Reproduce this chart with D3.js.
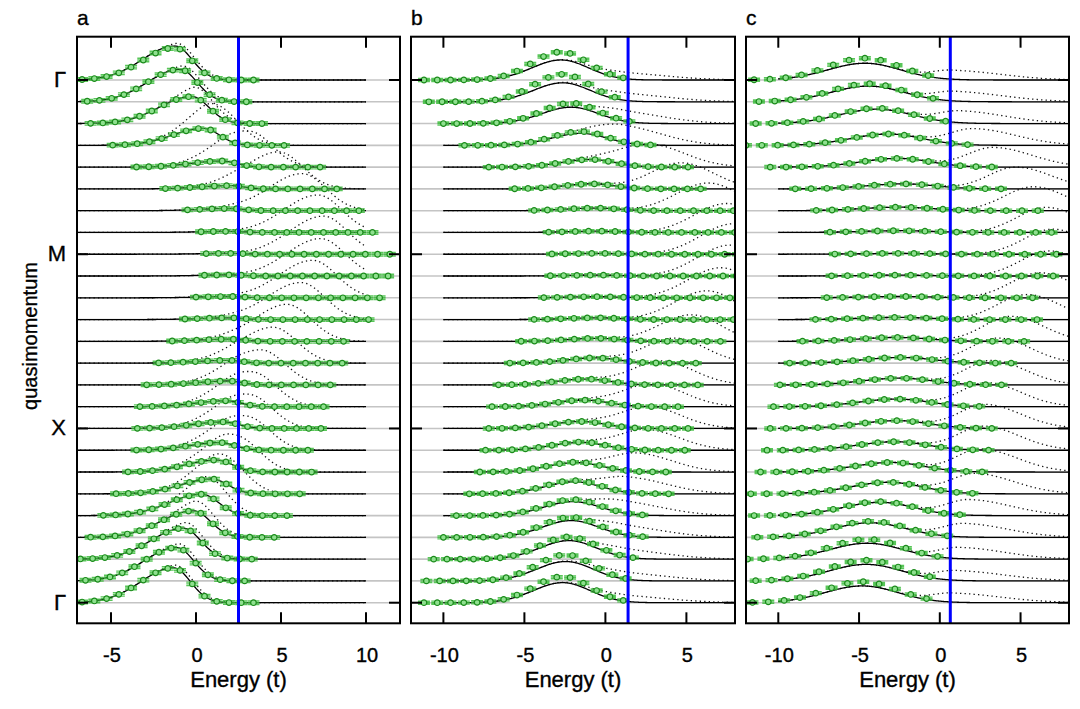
<!DOCTYPE html>
<html>
<head>
<meta charset="utf-8">
<script src="https://cdn.jsdelivr.net/npm/d3@7"></script>
<style>
  body { margin: 0; background: #fff; }
  text { font-family: "Liberation Sans", Arial, sans-serif; fill: #000; stroke: #000; stroke-width: 0.35px; }
</style>
</head>
<body>
<svg id="chart" width="1080" height="709"></svg>
<script>
// momentum path rows and their labels
const kLabels = ["Γ", "M", "X", "Γ"];
const kRows = [0, 8, 16, 24];
const nRows = 25;

const ticksA = [-5, 0, 5, 10];
const ticksB = [-10, -5, 0, 5];
const ticksC = [-10, -5, 0, 5];

// chemical potential (blue line), energy step between data points
const muA = 2.5, muB = 1.4, muC = 0.65;
const stepA = 0.72, stepB = 0.82, stepC = 0.98;
const errA = 0.08, errB = 0.07, errC = 0.07;

// solid curve per row: [centre, height (row spacings), sigma left, sigma right]
const solidA = [
  [-1.24, 1.56, 1.9, 1.0], [-0.94, 1.49, 1.9, 1.0], [-0.25, 1.24, 1.9, 1.0], [0.43, 0.78, 1.8, 0.95],
  [1.5, 0.28, 1.8, 0.9], [2.0, 0.15, 1.8, 0.8], [2.0, 0.1, 1.8, 0.8], [2.0, 0.05, 1.8, 0.8],
  [2.0, 0.04, 1.8, 0.8], [2.0, 0.05, 1.8, 0.8], [2.0, 0.06, 1.8, 0.8], [2.0, 0.08, 1.8, 0.8],
  [2.0, 0.1, 1.8, 0.8], [1.9, 0.13, 1.8, 0.8], [1.9, 0.18, 1.8, 0.8], [1.8, 0.27, 1.8, 0.85],
  [1.6, 0.3, 1.8, 0.9], [1.4, 0.35, 1.8, 0.9], [1.2, 0.55, 1.8, 0.95], [0.92, 0.68, 1.8, 0.95],
  [0.33, 0.98, 1.9, 1.0], [-0.16, 1.22, 1.9, 1.0], [-0.74, 1.42, 1.9, 1.0], [-1.14, 1.53, 1.9, 1.0],
  [-1.33, 1.6, 1.9, 1.0]
];
// extra part of the dotted curve (dotted = solid + upper)
const upperA = [
  [-0.3, 0.22, 0.8, 1.0], [0.0, 0.28, 0.8, 1.0], [0.4, 0.5, 1.0, 1.1], [1.55, 1.35, 1.5, 1.2],
  [3.2, 1.6, 1.8, 1.3], [4.85, 1.7, 1.9, 1.4], [6.24, 1.7, 2.0, 1.4], [7.17, 1.72, 2.0, 1.4],
  [7.5, 1.75, 2.0, 1.4], [7.34, 1.72, 2.0, 1.4], [6.87, 1.72, 2.0, 1.4], [6.17, 1.7, 2.0, 1.4],
  [5.35, 1.7, 1.9, 1.4], [4.53, 1.65, 1.9, 1.4], [3.83, 1.6, 1.8, 1.4], [3.36, 1.55, 1.7, 1.35],
  [3.2, 1.5, 1.7, 1.3], [3.04, 1.5, 1.7, 1.3], [2.57, 1.45, 1.6, 1.25], [1.87, 1.3, 1.5, 1.2],
  [1.05, 0.9, 1.2, 1.1], [0.4, 0.5, 1.0, 1.1], [-0.1, 0.32, 0.9, 1.0], [-0.4, 0.25, 0.8, 1.0],
  [-0.5, 0.2, 0.8, 1.0]
];
// data points per row: [first energy, last energy, height relative to solid]
const pointsA = [
  [-6.7, 3.4, 0.95], [-6.4, 3.6, 1], [-6.2, 4.5, 1], [-4.9, 5.8, 1], [-3.5, 7.4, 1],
  [-1.8, 8.9, 1], [-0.5, 10.2, 1], [0.3, 11.0, 1], [0.6, 11.4, 1], [0.5, 11.3, 1],
  [0.0, 10.8, 1], [-0.65, 10.2, 1], [-1.4, 9.35, 1], [-2.2, 8.6, 1], [-2.9, 8.0, 1],
  [-3.3, 7.6, 1], [-3.45, 7.4, 1], [-3.5, 7.2, 1], [-4.0, 6.8, 1], [-4.7, 6.1, 1],
  [-5.45, 5.4, 1], [-6.2, 4.6, 1], [-6.8, 3.9, 1], [-6.5, 3.5, 1], [-6.7, 3.4, 1]
];

const solidB = [
  [-2.74, 0.92, 1.8, 1.7], [-2.64, 0.87, 1.8, 1.7], [-2.12, 0.75, 1.8, 1.7], [-1.5, 0.55, 1.8, 1.6],
  [-0.9, 0.35, 1.8, 1.5], [-0.8, 0.23, 1.8, 1.4], [-0.6, 0.12, 1.8, 1.4], [-0.5, 0.06, 1.8, 1.4],
  [-0.5, 0.04, 1.8, 1.4], [-0.5, 0.04, 1.8, 1.4], [-0.5, 0.05, 1.8, 1.4], [-0.5, 0.08, 1.8, 1.4],
  [-0.5, 0.14, 1.8, 1.4], [-0.6, 0.24, 1.8, 1.4], [-1.2, 0.27, 1.8, 1.5], [-1.3, 0.3, 1.8, 1.5],
  [-1.5, 0.32, 1.8, 1.5], [-1.5, 0.36, 1.8, 1.5], [-1.8, 0.43, 1.8, 1.6], [-1.9, 0.55, 1.8, 1.6],
  [-2.0, 0.64, 1.8, 1.7], [-2.1, 0.77, 1.8, 1.7], [-2.25, 0.85, 1.8, 1.7], [-2.45, 0.89, 1.8, 1.7],
  [-2.64, 0.92, 1.8, 1.7]
];
const upperB = [
  [1.0, 0.3, 1.5, 2.8], [1.0, 0.35, 1.5, 2.8], [1.0, 0.5, 1.5, 2.6], [1.2, 0.8, 1.6, 2.4],
  [2.65, 1.05, 1.8, 2.2], [4.66, 1.2, 1.9, 2.0], [6.36, 1.27, 2.0, 1.9], [7.5, 1.33, 2.0, 1.8],
  [7.9, 1.4, 2.0, 1.8], [7.7, 1.42, 2.0, 1.8], [7.13, 1.38, 2.0, 1.8], [6.28, 1.32, 2.0, 1.8],
  [5.3, 1.22, 2.0, 1.8], [4.27, 1.15, 1.9, 1.9], [3.42, 1.1, 1.8, 2.0], [2.85, 1.05, 1.8, 2.0],
  [2.65, 1.0, 1.8, 2.0], [2.45, 0.95, 1.7, 2.1], [1.9, 0.85, 1.6, 2.2], [1.4, 0.72, 1.5, 2.4],
  [1.1, 0.58, 1.5, 2.5], [1.0, 0.48, 1.5, 2.6], [1.0, 0.4, 1.5, 2.7], [1.0, 0.34, 1.5, 2.8],
  [1.0, 0.3, 1.5, 2.8]
];
const pointsB = [
  [-11.2, 1.1, 1.4], [-10.9, 1.3, 1.45], [-10.0, 2.2, 1.25], [-8.7, 3.5, 1.15], [-7.2, 5.1, 1],
  [-5.6, 6.5, 1], [-4.4, 7.9, 1], [-3.5, 8.6, 1], [-3.3, 8.6, 1], [-3.4, 8.6, 1],
  [-3.8, 8.6, 1], [-4.4, 8.3, 1], [-5.2, 7.1, 1], [-5.9, 6.3, 1], [-6.6, 5.8, 1],
  [-7.0, 5.2, 1], [-7.2, 5.1, 1], [-7.4, 5.0, 1.05], [-7.75, 4.5, 1.05], [-8.4, 4.1, 1.1],
  [-9.2, 3.0, 1.15], [-10.0, 2.3, 1.2], [-10.6, 1.8, 1.2], [-11.05, 1.3, 1.35], [-11.2, 1.1, 1.3]
];

const solidC = [
  [-4.63, 0.77, 2.3, 2.2], [-4.42, 0.72, 2.3, 2.2], [-3.9, 0.66, 2.3, 2.2], [-3.19, 0.52, 2.3, 2.1],
  [-2.57, 0.4, 2.3, 2.0], [-2.26, 0.23, 2.3, 2.0], [-2.5, 0.16, 2.3, 2.0], [-2.5, 0.08, 2.3, 2.0],
  [-2.5, 0.04, 2.3, 2.0], [-2.5, 0.04, 2.3, 2.0], [-2.5, 0.06, 2.3, 2.0], [-2.6, 0.1, 2.3, 2.0],
  [-2.67, 0.18, 2.3, 2.0], [-2.4, 0.26, 2.3, 2.0], [-2.47, 0.31, 2.3, 2.0], [-2.67, 0.35, 2.3, 2.0],
  [-2.67, 0.36, 2.3, 2.0], [-2.78, 0.39, 2.3, 2.0], [-3.0, 0.44, 2.3, 2.0], [-3.2, 0.53, 2.3, 2.1],
  [-3.7, 0.61, 2.3, 2.1], [-4.3, 0.67, 2.3, 2.2], [-4.5, 0.73, 2.3, 2.2], [-4.55, 0.76, 2.3, 2.2],
  [-4.8, 0.77, 2.3, 2.2]
];
const upperC = [
  [0.8, 0.42, 1.3, 3.0], [0.9, 0.45, 1.3, 3.0], [1.3, 0.55, 1.4, 2.8], [2.1, 0.75, 1.5, 2.6],
  [3.3, 0.9, 1.6, 2.4], [4.7, 1.0, 1.7, 2.2], [5.8, 1.1, 1.8, 2.0], [6.6, 1.15, 1.8, 2.0],
  [7.0, 1.15, 1.8, 2.0], [6.8, 1.15, 1.8, 2.0], [6.2, 1.15, 1.8, 2.0], [5.4, 1.15, 1.8, 2.0],
  [4.4, 1.15, 1.7, 2.0], [3.6, 1.15, 1.7, 2.0], [3.2, 1.12, 1.6, 2.1], [2.9, 1.1, 1.6, 2.1],
  [2.8, 1.1, 1.6, 2.2], [2.7, 1.1, 1.6, 2.2], [2.5, 1.05, 1.5, 2.3], [2.2, 0.92, 1.5, 2.4],
  [1.8, 0.72, 1.4, 2.6], [1.5, 0.62, 1.4, 2.7], [1.2, 0.52, 1.3, 2.8], [1.0, 0.45, 1.3, 3.0],
  [0.8, 0.42, 1.3, 3.0]
];
const pointsC = [
  [-11.5, -0.7, 1.3], [-11.2, -0.4, 1.15], [-11.4, 0.45, 1.07], [-12.0, 1.75, 1], [-10.5, 3.3, 1],
  [-8.95, 4.7, 1], [-7.65, 6.2, 1], [-6.8, 7.0, 1], [-6.5, 7.3, 1], [-6.7, 7.1, 1],
  [-7.0, 6.7, 1], [-7.7, 6.1, 1], [-8.5, 5.25, 1], [-9.3, 4.5, 1], [-9.9, 3.9, 1],
  [-10.3, 3.4, 1], [-10.5, 3.3, 1], [-10.7, 3.2, 1], [-11.1, 2.8, 1], [-11.7, 2.06, 1],
  [-11.5, 1.34, 1.05], [-11.3, 0.5, 1.1], [-11.9, -0.1, 1.25], [-11.4, -0.5, 1.25], [-11.6, -0.7, 1.25]
];

const panels = [
  {id: "a", x0: 77, x1: 400, dom: [-7, 12], ticks: ticksA, mu: muA, solid: solidA, upper: upperA, pts: pointsA, step: stepA, err: errA},
  {id: "b", x0: 411, x1: 735, dom: [-12, 8], ticks: ticksB, mu: muB, solid: solidB, upper: upperB, pts: pointsB, step: stepB, err: errB},
  {id: "c", x0: 746, x1: 1069, dom: [-12, 8], ticks: ticksC, mu: muC, solid: solidC, upper: upperC, pts: pointsC, step: stepC, err: errC}
];

const plotTop = 36.7, plotBottom = 623.3;
const y = d3.scaleLinear().domain([0, nRows - 1]).range([80, 602.7]);
const rowStep = y(1) - y(0);
const h = d3.scaleLinear().domain([0, 1]).range([0, rowStep]);

// asymmetric gaussian peak
function peak(E, p) {
  const s = E < p[0] ? p[2] : p[3];
  return p[1] * Math.exp(-(E - p[0]) * (E - p[0]) / (2 * s * s));
}

const svg = d3.select("#chart");
const curveE = d3.range(-10, 10.0001, 0.04);

panels.forEach(P => {
  const x = d3.scaleLinear().domain(P.dom).range([P.x0, P.x1]);
  const g = svg.append("g");

  svg.append("clipPath").attr("id", "clip" + P.id)
    .append("rect").attr("x", P.x0).attr("y", plotTop).attr("width", P.x1 - P.x0).attr("height", plotBottom - plotTop);
  const inner = g.append("g").attr("clip-path", `url(#clip${P.id})`);

  // grey baselines
  inner.selectAll(".base").data(d3.range(nRows)).enter().append("line")
    .attr("x1", P.x0).attr("x2", P.x1)
    .attr("y1", d => y(d)).attr("y2", d => y(d))
    .attr("stroke", "#c4c4c4").attr("stroke-width", 1.6);

  // dotted curves
  inner.selectAll(".dot").data(d3.range(nRows)).enter().append("path")
    .attr("d", i => d3.line()
      .x(E => x(E))
      .y(E => y(i) - h(peak(E, P.solid[i]) + peak(E, P.upper[i])))(curveE))
    .attr("fill", "none").attr("stroke", "#111").attr("stroke-width", 1.3)
    .attr("stroke-dasharray", "1.3,3.2");

  // solid curves
  inner.selectAll(".sol").data(d3.range(nRows)).enter().append("path")
    .attr("d", i => d3.line()
      .x(E => x(E))
      .y(E => y(i) - h(peak(E, P.solid[i])))(curveE))
    .attr("fill", "none").attr("stroke", "#000").attr("stroke-width", 1.3);

  // chemical potential
  g.append("line")
    .attr("x1", x(P.mu)).attr("x2", x(P.mu)).attr("y1", plotTop).attr("y2", plotBottom)
    .attr("stroke", "#0000ff").attr("stroke-width", 3);

  // data points with error bars
  const pts = [];
  P.pts.forEach((r, i) => {
    for (let E = r[0]; E <= r[1] + 1e-6; E += P.step) {
      pts.push({E: E, row: i, v: peak(E, P.solid[i]) * r[2]});
    }
  });
  const pg = inner.selectAll(".pt").data(pts).enter().append("g")
    .attr("transform", d => `translate(${x(d.E)},${y(d.row) - h(d.v)})`);
  const eb = h(P.err);
  pg.append("path")
    .attr("d", `M-6,${-eb}H6M-6,${eb}H6M0,${-eb}V${eb}M-6,0H6`)
    .attr("stroke", "#3cbc3c").attr("stroke-opacity", 0.85).attr("stroke-width", 1.4).attr("fill", "none");
  pg.append("circle").attr("r", 2.8)
    .attr("fill", "#8fe08f").attr("stroke", "#1b8a1b").attr("stroke-width", 1.2);

  // ticks, inward on all sides
  const tk = g.append("g").attr("stroke", "#000").attr("stroke-width", 2);
  P.ticks.forEach(t => {
    tk.append("line").attr("x1", x(t)).attr("x2", x(t)).attr("y1", plotBottom).attr("y2", plotBottom - 11);
    tk.append("line").attr("x1", x(t)).attr("x2", x(t)).attr("y1", plotTop).attr("y2", plotTop + 11);
  });
  kRows.forEach(r => {
    tk.append("line").attr("x1", P.x0).attr("x2", P.x0 + 11).attr("y1", y(r)).attr("y2", y(r));
    tk.append("line").attr("x1", P.x1).attr("x2", P.x1 - 11).attr("y1", y(r)).attr("y2", y(r));
  });

  // frame
  g.append("rect").attr("x", P.x0).attr("y", plotTop).attr("width", P.x1 - P.x0).attr("height", plotBottom - plotTop)
    .attr("fill", "none").attr("stroke", "#000").attr("stroke-width", 2);

  // tick labels and axis title
  g.selectAll(".tl").data(P.ticks).enter().append("text")
    .attr("x", d => x(d) + 1).attr("y", 662)
    .attr("text-anchor", "middle").attr("font-size", 20)
    .text(d => d);
  g.append("text").attr("x", (P.x0 + P.x1) / 2).attr("y", 687)
    .attr("text-anchor", "middle").attr("font-size", 22)
    .text("Energy (t)");

  // panel letter
  g.append("text").attr("x", P.x0).attr("y", 25)
    .attr("font-size", 21).text(P.id);
});

// momentum labels
svg.selectAll(".kl").data(kRows).enter().append("text")
  .attr("x", 66).attr("y", d => y(d) + 7)
  .attr("text-anchor", "end").attr("font-size", 22)
  .text((d, i) => kLabels[i]);

svg.append("text")
  .attr("transform", "translate(37,336) rotate(-90)")
  .attr("text-anchor", "middle").attr("font-size", 20)
  .text("quasimomentum");
</script>
</body>
</html>
